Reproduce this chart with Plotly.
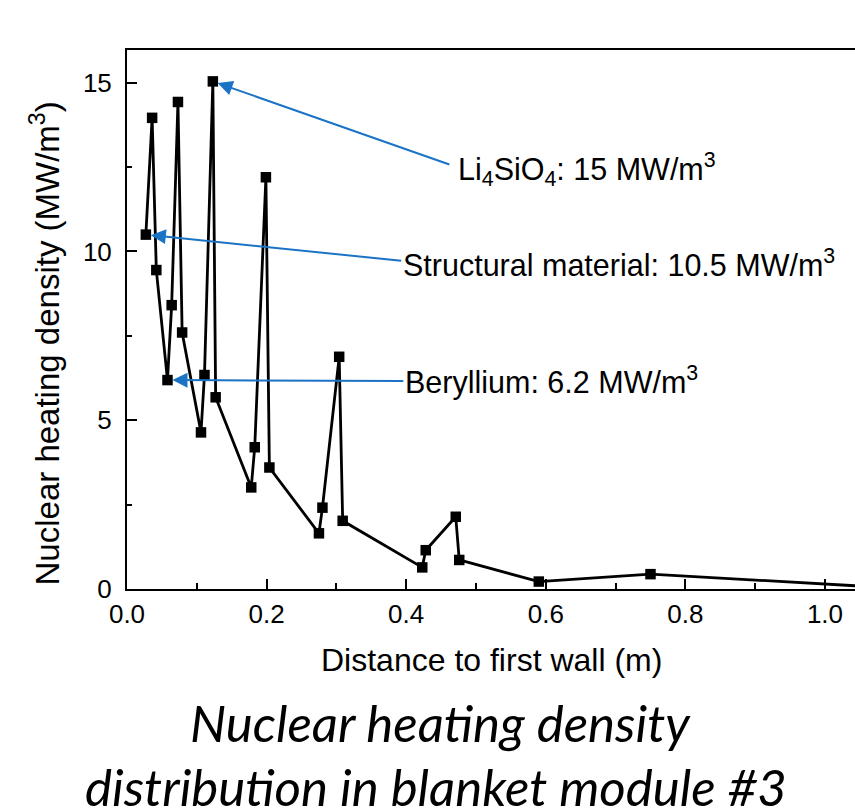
import plotly.graph_objects as go

# ---- data ----
distance_m = [0.027, 0.036, 0.042, 0.058, 0.064, 0.073, 0.079, 0.106, 0.111, 0.123,
              0.127, 0.178, 0.183, 0.199, 0.204, 0.275, 0.280, 0.304, 0.309, 0.423,
              0.428, 0.471, 0.476, 0.590, 0.750, 1.100]
heating_density = [10.5, 13.96, 9.45, 6.19, 8.41, 14.43, 7.6, 4.64, 6.34, 15.04,
                   5.68, 3.01, 4.2, 12.2, 3.6, 1.65, 2.41, 6.88, 2.02, 0.64,
                   1.15, 2.14, 0.86, 0.22, 0.44, 0.03]

x_tick_vals = [0.0, 0.2, 0.4, 0.6, 0.8, 1.0]
x_tick_text = ["0.0", "0.2", "0.4", "0.6", "0.8", "1.0"]
y_tick_vals = [0, 5, 10, 15]
y_tick_text = ["0", "5", "10", "15"]

label_li = "Li<sub>4</sub>SiO<sub>4</sub>: 15 MW/m<sup>3</sup>"
label_struct = "Structural material: 10.5 MW/m<sup>3</sup>"
label_be = "Beryllium: 6.2 MW/m<sup>3</sup>"

BLUE = "#1A73C4"
FONT = "Liberation Sans, Arial, sans-serif"

fig = go.Figure()
fig.add_trace(go.Scatter(
    x=distance_m, y=heating_density, mode="lines+markers",
    line=dict(color="black", width=2.8),
    marker=dict(symbol="square", size=10.5, color="black"),
    showlegend=False,
))

# arrows: (index of data point, tail x, tail y)
arrows = [
    (9, 0.464, 12.56),
    (0, 0.395, 9.72),
    (3, 0.398, 6.16),
]
for idx, axv, ayv in arrows:
    fig.add_annotation(
        x=distance_m[idx], y=heating_density[idx], xref="x", yref="y",
        ax=axv, ay=ayv, axref="x", ayref="y", text="",
        showarrow=True, arrowhead=2, arrowsize=1.5, arrowwidth=2,
        arrowcolor=BLUE, standoff=5,
    )

texts = [
    (label_li, 0.472, 12.42),
    (label_struct, 0.393, 9.66),
    (label_be, 0.395, 6.19),
]
for t, tx, ty in texts:
    fig.add_annotation(
        x=tx, y=ty, xref="x", yref="y", text=t, showarrow=False,
        xanchor="left", yanchor="middle",
        font=dict(family=FONT, size=30.5, color="black"),
    )

# axis titles
fig.add_annotation(
    x=0.5, y=-0.132, xref="paper", yref="paper",
    text="Distance to first wall (m)", showarrow=False,
    xanchor="center", yanchor="middle",
    font=dict(family=FONT, size=32, color="black"),
)
fig.add_annotation(
    x=-0.113, y=0.455, xref="paper", yref="paper",
    text="Nuclear heating density (MW/m<sup>3</sup>)", showarrow=False,
    textangle=-90, xanchor="center", yanchor="middle",
    font=dict(family=FONT, size=33, color="black"),
)

# caption
fig.add_annotation(
    x=0.43, y=-0.248, xref="paper", yref="paper",
    text="<i>Nuclear heating density</i>", showarrow=False,
    xanchor="center", yanchor="middle",
    font=dict(family="Lato, sans-serif", size=51, color="black"),
)
fig.add_annotation(
    x=0.425, y=-0.366, xref="paper", yref="paper",
    text="<i>distribution in blanket module #3</i>", showarrow=False,
    xanchor="center", yanchor="middle",
    font=dict(family="Lato, sans-serif", size=51, color="black"),
)

fig.update_xaxes(
    range=[0, 1.043], showline=True, linecolor="black", linewidth=2, mirror=True,
    showgrid=False, zeroline=False,
    tickmode="array", tickvals=x_tick_vals, ticktext=x_tick_text,
    ticks="inside", ticklen=10, tickwidth=2, tickcolor="black",
    minor=dict(ticks="inside", ticklen=6, tickwidth=2, tickcolor="black", dtick=0.1),
    tickfont=dict(family=FONT, size=26, color="black"),
    ticklabelstandoff=1,
)
fig.update_yaxes(
    range=[0, 15.97], showline=True, linecolor="black", linewidth=2,
    showgrid=False, zeroline=False,
    tickmode="array", tickvals=y_tick_vals, ticktext=y_tick_text,
    ticks="inside", ticklen=10, tickwidth=2, tickcolor="black",
    minor=dict(ticks="inside", ticklen=5, tickwidth=2, tickcolor="black", dtick=2.5),
    tickfont=dict(family=FONT, size=26, color="black"),
    ticklabelstandoff=8,
)

fig.update_layout(
    width=855, height=809,
    margin=dict(l=127, r=0, t=50, b=220),
    plot_bgcolor="white", paper_bgcolor="white",
)

fig.write_html("out.html")
